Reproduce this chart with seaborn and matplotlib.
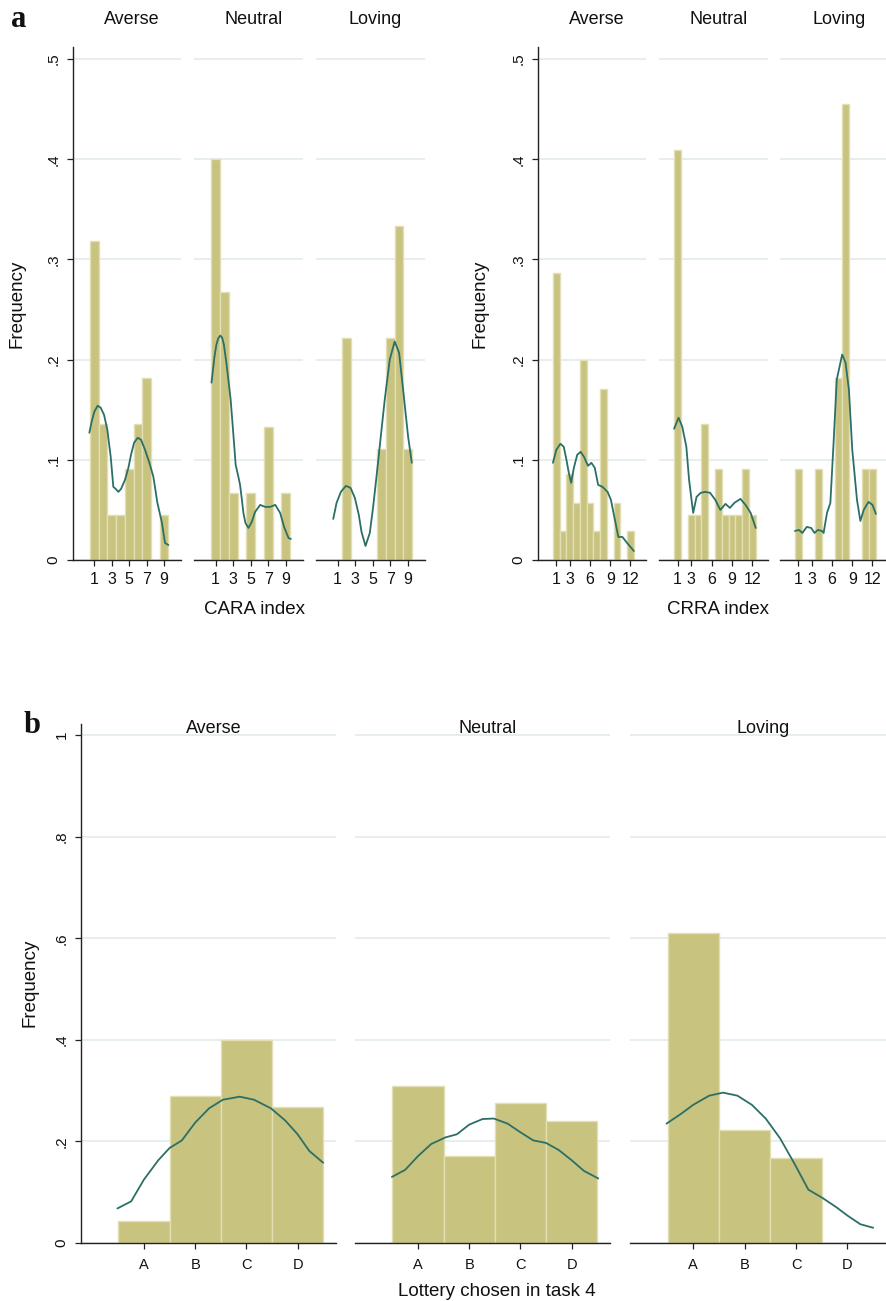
import matplotlib
matplotlib.use("Agg")
import matplotlib.pyplot as plt
import seaborn as sns

sns.set_theme(style="white")
plt.rcParams["font.family"] = ["Liberation Sans", "DejaVu Sans"]

# ---------------- data ----------------
groups = ["Averse", "Neutral", "Loving"]

cara_bins = [1, 2, 3, 4, 5, 6, 7, 8, 9]
cara_ticks = [1, 3, 5, 7, 9]
cara_averse_freq = [0.318, 0.136, 0.045, 0.045, 0.091, 0.136, 0.182, 0.0, 0.045]
cara_neutral_freq = [0.400, 0.267, 0.067, 0.0, 0.067, 0.0, 0.133, 0.0, 0.067]
cara_loving_freq = [0.0, 0.222, 0.0, 0.0, 0.0, 0.111, 0.222, 0.333, 0.111]

cara_averse_kx = [0.43, 0.69, 1.0, 1.38, 1.73, 2.11, 2.49, 2.88, 3.18, 3.45, 3.76, 4.07, 4.52,
                  4.91, 5.21, 5.56, 5.98, 6.36, 6.82, 7.32, 7.78, 8.24, 8.74, 9.12, 9.5]
cara_averse_ky = [0.127, 0.138, 0.148, 0.154, 0.152, 0.145, 0.130, 0.103, 0.073, 0.071, 0.068,
                  0.071, 0.080, 0.092, 0.105, 0.117, 0.122, 0.120, 0.110, 0.097, 0.083, 0.057,
                  0.038, 0.017, 0.015]
cara_neutral_kx = [0.54, 0.88, 1.1, 1.3, 1.54, 1.75, 1.95, 2.26, 2.72, 3.03, 3.29, 3.55, 3.79,
                   4.0, 4.17, 4.40, 4.74, 5.12, 5.5, 6.08, 6.65, 7.2, 7.8, 8.35, 8.8, 9.3, 9.56]
cara_neutral_ky = [0.177, 0.203, 0.215, 0.221, 0.224, 0.222, 0.215, 0.195, 0.160, 0.125, 0.095,
                   0.085, 0.075, 0.060, 0.047, 0.037, 0.032, 0.038, 0.048, 0.055, 0.053, 0.053,
                   0.055, 0.047, 0.033, 0.022, 0.021]
cara_loving_kx = [0.51, 0.89, 1.38, 1.95, 2.48, 2.97, 3.42, 3.73, 4.18, 4.67, 5.05, 5.43, 5.88,
                  6.37, 6.94, 7.5, 8.0, 8.46, 9.03, 9.45]
cara_loving_ky = [0.041, 0.057, 0.068, 0.074, 0.072, 0.062, 0.045, 0.028, 0.014, 0.027, 0.053,
                  0.083, 0.12, 0.16, 0.20, 0.218, 0.207, 0.17, 0.123, 0.097]

crra_bins = [1, 2, 3, 4, 5, 6, 7, 8, 9, 10, 11, 12]
crra_ticks = [1, 3, 6, 9, 12]
crra_averse_freq = [0.286, 0.029, 0.086, 0.057, 0.200, 0.057, 0.029, 0.171, 0.0, 0.057, 0.0, 0.029]
crra_neutral_freq = [0.409, 0.0, 0.045, 0.045, 0.136, 0.0, 0.091, 0.045, 0.045, 0.045, 0.091, 0.045]
crra_loving_freq = [0.091, 0.0, 0.0, 0.091, 0.0, 0.0, 0.182, 0.455, 0.0, 0.0, 0.091, 0.091]

crra_averse_kx = [0.5, 1.0, 1.6, 2.1, 2.5, 2.85, 3.2, 3.6, 4.1, 4.6, 5.1, 5.7, 6.2, 6.7, 7.2,
                  7.85, 8.6, 9.1, 9.6, 10.2, 10.8, 11.5, 12.5]
crra_averse_ky = [0.097, 0.110, 0.116, 0.113, 0.100, 0.087, 0.077, 0.092, 0.105, 0.108, 0.103,
                  0.094, 0.097, 0.092, 0.075, 0.073, 0.068, 0.060, 0.043, 0.023, 0.023, 0.017,
                  0.009]
crra_neutral_kx = [0.5, 1.15, 1.7, 2.3, 2.7, 3.3, 3.8, 4.4, 5.05, 5.8, 6.55, 7.3, 8.05, 8.7,
                   9.35, 10.25, 11.0, 11.75, 12.5]
crra_neutral_ky = [0.131, 0.142, 0.133, 0.113, 0.080, 0.047, 0.063, 0.067, 0.068, 0.067, 0.060,
                   0.050, 0.056, 0.052, 0.057, 0.061, 0.055, 0.047, 0.032]
crra_loving_kx = [0.5, 1.1, 1.6, 2.25, 2.9, 3.4, 3.9, 4.5, 4.75, 5.25, 5.75, 6.25, 6.7, 7.5,
                  8.0, 8.5, 9.0, 9.7, 10.2, 10.7, 11.4, 12.0, 12.5]
crra_loving_ky = [0.029, 0.030, 0.027, 0.033, 0.032, 0.027, 0.030, 0.029, 0.027, 0.047, 0.057,
                  0.120, 0.180, 0.205, 0.197, 0.170, 0.110, 0.060, 0.039, 0.050, 0.058, 0.055,
                  0.046]

lottery_pos = [1, 2, 3, 4]
lottery_labels = ["A", "B", "C", "D"]
lottery_averse_freq = [0.044, 0.289, 0.400, 0.267]
lottery_neutral_freq = [0.310, 0.172, 0.276, 0.241]
lottery_loving_freq = [0.611, 0.222, 0.167, 0.0]

lottery_averse_kx = [0.48, 0.75, 1.0, 1.28, 1.5, 1.74, 2.0, 2.27, 2.54, 2.87, 3.15, 3.48, 3.76,
                     4.0, 4.23, 4.5]
lottery_averse_ky = [0.068, 0.082, 0.125, 0.163, 0.187, 0.202, 0.237, 0.265, 0.282, 0.288,
                     0.282, 0.265, 0.241, 0.214, 0.181, 0.158]
lottery_neutral_kx = [0.49, 0.75, 1.0, 1.26, 1.54, 1.76, 2.0, 2.26, 2.48, 2.75, 3.0, 3.25, 3.5,
                      3.75, 4.0, 4.24, 4.52]
lottery_neutral_ky = [0.130, 0.144, 0.171, 0.195, 0.208, 0.214, 0.233, 0.244, 0.245, 0.235,
                      0.218, 0.202, 0.197, 0.183, 0.163, 0.142, 0.127]
lottery_loving_kx = [0.48, 0.76, 1.0, 1.31, 1.58, 1.86, 2.14, 2.41, 2.69, 2.97, 3.24, 3.51,
                     3.79, 4.0, 4.25, 4.5]
lottery_loving_ky = [0.235, 0.254, 0.272, 0.290, 0.296, 0.290, 0.272, 0.245, 0.206, 0.156,
                     0.105, 0.089, 0.070, 0.054, 0.037, 0.030]

top_yticks = [0, 0.1, 0.2, 0.3, 0.4, 0.5]
top_ylabels = ["0", ".1", ".2", ".3", ".4", ".5"]
bot_yticks = [0, 0.2, 0.4, 0.6, 0.8, 1.0]
bot_ylabels = ["0", ".2", ".4", ".6", ".8", "1"]

# ---------------- styling ----------------
BAR = "#c8c37f"
BAR_EDGE = "#e2dfb4"
CURVE = "#2b6f66"
GRID = "#e5eded"
AXC = "#222222"

W, H = 886, 1301
fig = plt.figure(figsize=(W / 100, H / 100), dpi=100)


def add_ax(x0, x1, ytop, ybot):
    return fig.add_axes([x0 / W, 1 - ybot / H, (x1 - x0) / W, (ybot - ytop) / H])


def draw_panel(ax, bins, freq, kx, ky, xlim, ylim, xticks, xticklabels, yticks, yticklabels,
               first, title, title_y, xtick_size, xtick_pad, ylab_x):
    sns.histplot(x=bins, weights=freq, discrete=True, stat="count", ax=ax, color=BAR,
                 edgecolor=BAR_EDGE, linewidth=1.0, alpha=1.0, zorder=2)
    sns.lineplot(x=kx, y=ky, ax=ax, color=CURVE, linewidth=1.3, zorder=3)
    ax.set_xlim(*xlim)
    ax.set_ylim(*ylim)
    ax.set_xticks(xticks)
    ax.set_xticklabels(xticklabels)
    ax.set_yticks(yticks)
    ax.yaxis.grid(True, color=GRID, linewidth=1.3)
    ax.xaxis.grid(False)
    ax.set_axisbelow(True)
    for s in ["top", "right"]:
        ax.spines[s].set_visible(False)
    ax.spines["bottom"].set_color(AXC)
    ax.spines["bottom"].set_linewidth(1.0)
    ax.tick_params(axis="x", bottom=True, length=4.5, width=0.9, color=AXC, pad=xtick_pad,
                   labelsize=xtick_size, labelcolor="#111111")
    ax.set_xlabel("")
    if first:
        ax.spines["left"].set_color(AXC)
        ax.spines["left"].set_linewidth(1.0)
        ax.set_yticklabels(yticklabels)
        ax.tick_params(axis="y", left=True, length=4.5, width=0.9, color=AXC, pad=4.5,
                       labelsize=11, labelrotation=90, labelcolor="#111111")
        for lab in ax.get_yticklabels():
            lab.set_va("center")
        ax.set_ylabel("Frequency", fontsize=13.5, color="#111111")
        ax.yaxis.set_label_coords(ylab_x, 0.5)
    else:
        ax.spines["left"].set_visible(False)
        ax.tick_params(axis="y", left=False, labelleft=False)
        ax.set_ylabel("")
    pw = ax.get_position().width * W
    ax.text(0.5 + 5 / pw, title_y, title, transform=ax.transAxes, ha="center",
            va="baseline", fontsize=13, color="#111111")


top_ytop, top_ybot = 47, 560
top_ylim = (0, 0.512)
top_title_y = 1 + (47 - 24) / (560 - 47)

cara_pos = [(73, 181), (194, 303), (316, 425)]
cara_freqs = [cara_averse_freq, cara_neutral_freq, cara_loving_freq]
cara_kxs = [cara_averse_kx, cara_neutral_kx, cara_loving_kx]
cara_kys = [cara_averse_ky, cara_neutral_ky, cara_loving_ky]
for i, g in enumerate(groups):
    ax = add_ax(cara_pos[i][0], cara_pos[i][1], top_ytop, top_ybot)
    draw_panel(ax, cara_bins, cara_freqs[i], cara_kxs[i], cara_kys[i], (-1.45, 10.95), top_ylim,
               cara_ticks, [str(t) for t in cara_ticks], top_yticks, top_ylabels, i == 0, g,
               top_title_y, 11.5, 4.5, -0.444)

crra_pos = [(538, 646), (659, 768), (780, 888)]
crra_freqs = [crra_averse_freq, crra_neutral_freq, crra_loving_freq]
crra_kxs = [crra_averse_kx, crra_neutral_kx, crra_loving_kx]
crra_kys = [crra_averse_ky, crra_neutral_ky, crra_loving_ky]
for i, g in enumerate(groups):
    ax = add_ax(crra_pos[i][0], crra_pos[i][1], top_ytop, top_ybot)
    draw_panel(ax, crra_bins, crra_freqs[i], crra_kxs[i], crra_kys[i], (-1.72, 14.3), top_ylim,
               crra_ticks, [str(t) for t in crra_ticks], top_yticks, top_ylabels, i == 0, g,
               top_title_y, 11.5, 4.5, -0.457)

bot_ytop, bot_ybot = 723.5, 1243
bot_title_y = 1 - (733 - 723.5) / (1243 - 723.5)
lot_pos = [(81, 336), (355, 610), (630, 886)]
lot_freqs = [lottery_averse_freq, lottery_neutral_freq, lottery_loving_freq]
lot_kxs = [lottery_averse_kx, lottery_neutral_kx, lottery_loving_kx]
lot_kys = [lottery_averse_ky, lottery_neutral_ky, lottery_loving_ky]
for i, g in enumerate(groups):
    ax = add_ax(lot_pos[i][0], lot_pos[i][1], bot_ytop, bot_ybot)
    draw_panel(ax, lottery_pos, lot_freqs[i], lot_kxs[i], lot_kys[i], (-0.23, 4.75),
               (0, 1.0226), lottery_pos, lottery_labels, bot_yticks, bot_ylabels, i == 0, g,
               bot_title_y, 10.5, 6.0, -0.167)

# axis titles and panel letters
fig.text(254 / W, 1 - 614 / H, "CARA index", ha="center", va="baseline", fontsize=13.5,
         color="#111111")
fig.text(718 / W, 1 - 614 / H, "CRRA index", ha="center", va="baseline", fontsize=13.5,
         color="#111111")
fig.text(497 / W, 1 - 1296 / H, "Lottery chosen in task 4", ha="center", va="baseline",
         fontsize=13.5, color="#111111")
fig.text(19 / W, 1 - 27 / H, "a", ha="center", va="baseline", fontsize=22, fontweight="bold",
         family=["Liberation Serif", "DejaVu Serif"], color="#111111")
fig.text(32 / W, 1 - 733 / H, "b", ha="center", va="baseline", fontsize=22, fontweight="bold",
         family=["Liberation Serif", "DejaVu Serif"], color="#111111")

fig.savefig("out.png", dpi=100)
